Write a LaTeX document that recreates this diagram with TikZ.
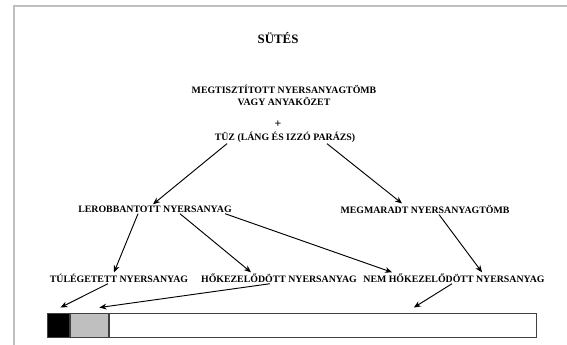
\documentclass[tikz,border=0pt]{standalone}
\usepackage{fontspec}
\setmainfont{Liberation Serif}
\usetikzlibrary{positioning,arrows.meta}

\tikzset{
  label/.style={inner sep=1pt, font=\fontsize{8.4}{10}\selectfont\bfseries},
  flow/.style={thick, -{Stealth[length=6pt,width=5pt]}},
  cell/.style={draw=black!75, thick, minimum height=24*0.03cm, inner sep=0pt, anchor=west}
}

\begin{document}
\begin{tikzpicture}[x=0.03cm, y=-0.03cm]
                \useasboundingbox (0,0) rectangle (567,345);
                % slide frame
                \draw[black!25, line width=1.5pt] (14,345) -- (14,6) -- (567,6);

                % title
                \node[label, font=\fontsize{11}{13}\selectfont\bfseries] (title) at (278,38) {SÜTÉS};

                % starting material
                \node[label, align=center] (start) at (284,95) {MEGTISZTÍTOTT NYERSANYAGTÖMB\\VAGY ANYAKÖZET};
                \node[label, font=\fontsize{10}{12}\selectfont\bfseries] (plus) at (278,124) {+};
                \node[label] (fire) at (285,137) {TÜZ (LÁNG ÉS IZZÓ PARÁZS)};

                % second level
                \node[label] (blasted) at (155,209) {LEROBBANTOTT NYERSANYAG};
                \node[label] (remain) at (425,209) {MEGMARADT NYERSANYAGTÖMB};

                % third level
                \node[label] (burnt) at (119,278) {TÚLÉGETETT NYERSANYAG};
                \node[label] (heated) at (279,278) {HŐKEZELŐDÖTT NYERSANYAG};
                \node[label] (unheated) at (454,278) {NEM HŐKEZELŐDÖTT NYERSANYAG};

                % bar
                \node[cell, fill=black, minimum width=22*0.03cm] (barA) at (47,325) {};
                \node[cell, fill=black!25, minimum width=38*0.03cm, right=0pt of barA] (barB) {};
                \node[cell, fill=white, minimum width=427*0.03cm, right=0pt of barB] (barC) {};

                % arrows
                \draw[flow] ([xshift=-58*0.03cm]fire.south) -- ([xshift=-2*0.03cm]blasted.north);
                \draw[flow] ([xshift=42*0.03cm]fire.south) -- ([xshift=-23*0.03cm]remain.north);
                \draw[flow] ([xshift=-17*0.03cm]blasted.south) -- ([xshift=-5*0.03cm]burnt.north);
                \draw[flow] ([xshift=25*0.03cm]blasted.south) -- ([xshift=-28*0.03cm]heated.north);
                \draw[flow] ([xshift=-8*0.03cm]blasted.south east) -- ([xshift=-62*0.03cm]unheated.north);
                \draw[flow] ([xshift=14*0.03cm]remain.south) -- ([xshift=28*0.03cm]unheated.north);
                \draw[flow] ([xshift=-11*0.03cm]burnt.south) -- ([xshift=2*0.03cm,yshift=5*0.03cm]barA.north);
                \draw[flow] ([xshift=-9*0.03cm]heated.south) -- ([xshift=10*0.03cm,yshift=5*0.03cm]barB.north);
                \draw[flow] ([xshift=-2*0.03cm]unheated.south) -- ([xshift=91*0.03cm,yshift=5*0.03cm]barC.north);
            \end{tikzpicture}
\end{document}
